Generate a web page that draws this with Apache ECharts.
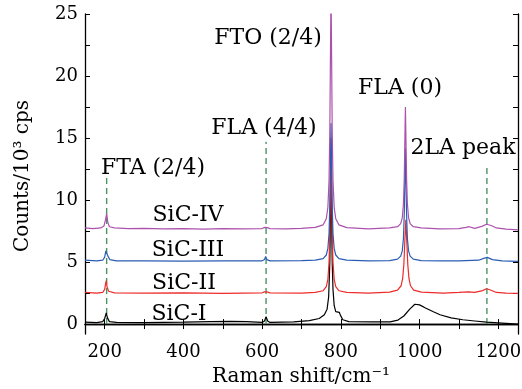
<!DOCTYPE html>
<html><head><meta charset="utf-8">
<script src="https://cdn.jsdelivr.net/npm/echarts@6/dist/echarts.min.js"></script>
<style>html,body{margin:0;padding:0;background:#fff}#c{width:522px;height:389px}</style>
</head><body><div id="c"></div>
<script>
// ---- data (x: Raman shift cm^-1, y: counts / 10^3 cps) ----
const sicI = [[150,0.15],[180,0.12],[195,0.2],[200,0.45],[204,0.9],[207,0.5],[212,0.2],[230,0.13],[300,0.12],[400,0.15],[470,0.2],[520,0.22],[560,0.2],[600,0.13],[606,0.25],[610,0.6],[614,0.25],[620,0.13],[680,0.18],[720,0.28],[745,0.45],[758,0.75],[765,1.2],[769,2.2],[772,5],[775,12],[778,5],[780,2.8],[783,1.5],[787,1.0],[792,0.85],[796,0.95],[799,0.7],[805,0.35],[820,0.2],[880,0.17],[925,0.18],[945,0.32],[960,0.65],[975,1.2],[988,1.6],[1000,1.55],[1015,1.3],[1035,1.0],[1052,0.75],[1080,0.5],[1110,0.35],[1140,0.25],[1170,0.15],[1200,0.1],[1250,0.0]];
const sicII = [[150,2.55],[180,2.5],[195,2.55],[200,2.8],[202,3.2],[204,3.5],[206,3.0],[210,2.65],[225,2.52],[300,2.5],[400,2.52],[500,2.48],[600,2.52],[606,2.6],[609,2.75],[612,2.6],[620,2.52],[700,2.5],[735,2.55],[755,2.69],[763,3.02],[767,3.6],[770,5.0],[772,7.6],[775,15],[778,7.6],[780,5.0],[783,3.6],[787,3.02],[795,2.69],[815,2.55],[870,2.5],[924,2.57],[944,2.74],[953,3.09],[957,3.68],[960,4.8],[962,6.3],[965,8.4],[968,6.3],[970,4.8],[973,3.68],[977,3.09],[985,2.74],[1005,2.57],[1060,2.5],[1100,2.55],[1125,2.6],[1140,2.55],[1160,2.7],[1170,2.85],[1180,2.75],[1195,2.55],[1220,2.5],[1250,2.48]];
const sicIII = [[150,5.15],[180,5.1],[195,5.15],[200,5.4],[203,5.9],[205,6.0],[208,5.5],[213,5.2],[230,5.1],[300,5.1],[400,5.08],[500,5.1],[600,5.1],[606,5.2],[609,5.45],[612,5.2],[620,5.1],[700,5.12],[735,5.15],[755,5.27],[763,5.57],[767,6.1],[770,7.3],[772,9.65],[775,16.2],[778,9.65],[780,7.3],[783,6.1],[787,5.57],[795,5.27],[815,5.15],[870,5.1],[924,5.12],[944,5.24],[952,5.48],[956,5.9],[959,6.9],[961,8.8],[964,14.2],[967,8.8],[969,6.9],[972,5.9],[976,5.48],[984,5.24],[1004,5.12],[1060,5.1],[1100,5.1],[1150,5.15],[1163,5.3],[1172,5.38],[1185,5.2],[1210,5.1],[1250,5.05]];
const sicIV = [[150,7.75],[170,7.7],[190,7.75],[198,7.9],[202,8.4],[205,8.9],[208,8.2],[212,7.85],[225,7.75],[260,7.7],[300,7.72],[350,7.68],[400,7.7],[450,7.65],[500,7.7],[550,7.68],[600,7.7],[607,7.8],[610,7.95],[613,7.78],[620,7.7],[660,7.68],[700,7.72],[735,7.8],[755,8.0],[763,8.5],[767,9.4],[770,11.6],[772,15.7],[775,27.2],[778,15.7],[780,11.6],[783,9.4],[787,8.5],[795,8.0],[815,7.78],[870,7.68],[924,7.75],[944,7.85],[952,8.1],[956,8.57],[959,9.7],[961,11.7],[964,17.5],[967,11.7],[969,9.7],[972,8.57],[976,8.1],[984,7.85],[1004,7.75],[1050,7.68],[1100,7.7],[1118,7.8],[1126,7.85],[1140,7.72],[1158,7.88],[1170,8.05],[1182,7.95],[1195,7.75],[1220,7.65],[1250,7.6]];
// reference (dashed) lines: [position, top]
const refLines = [[205,12.0],[610,14.7],[1171,12.7]];
const seriesNames = ['SiC-I','SiC-II','SiC-III','SiC-IV'];
const xLabels = [200,400,600,800,1000,1200];
const xTicks = [200,300,400,500,600,700,800,900,1000,1100,1200];
const yLabels = [0,5,10,15,20,25];
const yTicks = [0,2.5,5,7.5,10,12.5,15,17.5,20,22.5,25];
const peakNotes = ['FTO (2/4)','FLA (0)','FLA (4/4)','2LA peak','FTA (2/4)'];
const xName = 'Raman shift/cm⁻¹';
const yName = 'Counts/10³ cps';

const FONT = 'DejaVu Serif';
const colors = ['#000000','#ee2b2b','#2a5cb3','#ac52ac'];
const chart = echarts.init(document.getElementById('c'), null, {renderer:'canvas'});
const axisLine = {show:true, lineStyle:{color:'#000', width:1.3}};
function xAx(pos, show){
  return {type:'value', min:150, max:1250, position:pos, axisLine, splitLine:{show:false},
    axisTick:{show:true, inside:true, length:5, customValues:xTicks, lineStyle:{color:'#000', width:1}},
    axisLabel:{show:show, customValues:xLabels, formatter:v=>String(v), color:'#000', fontFamily:FONT, fontSize:18, margin:9}};
}
function yAx(pos, show){
  return {type:'value', min:-0.8, max:25, position:pos, axisLine, splitLine:{show:false},
    axisTick:{show:true, inside:true, length:5, customValues:yTicks, lineStyle:{color:'#000', width:1}},
    axisLabel:{show:show, customValues:yLabels, formatter:v=>String(v), color:'#000', fontFamily:FONT, fontSize:18, margin:7}};
}
const series = [];
refLines.forEach(r => series.push({type:'line', xAxisIndex:0, yAxisIndex:0, data:[[r[0],0],[r[0],r[1]]],
  showSymbol:false, silent:true, z:1, lineStyle:{color:'#4a9462', width:1.4, type:[6,4]}}));
[sicI, sicII, sicIII, sicIV].forEach((d,i) => series.push({type:'line', name:seriesNames[i], data:d,
  xAxisIndex:0, yAxisIndex:0, showSymbol:false, clip:true, z:2+i, animation:false,
  lineStyle:{color:colors[i], width:1.2}}));

const notePos = [[268,38],[400,88],[264,128],[463,148],[153,168]];
const seriesLabelPos = [[179,314],[184,283],[188,250],[188,215]];
const graphics = [];
function txt(t, x, y, size, rot){
  return {type:'text', x:x, y:y, rotation:rot||0,
    style:{text:t, fill:'#000', font:size+'px "'+FONT+'"', align:'center', verticalAlign:'middle'}};
}
peakNotes.forEach((t,i) => graphics.push(txt(t, notePos[i][0], notePos[i][1], 22)));
seriesNames.forEach((t,i) => graphics.push(txt(t, seriesLabelPos[i][0], seriesLabelPos[i][1], 22)));
graphics.push(txt(xName, 301, 377, 20));
graphics.push(txt(yName, 23, 176, 20, Math.PI/2));

chart.setOption({
  animation:false,
  grid:{left:85, right:4, top:14, bottom:55, containLabel:false, outerBoundsMode:'none'},
  xAxis:[xAx('bottom',true), xAx('top',false)],
  yAxis:[yAx('left',true), yAx('right',false)],
  series, graphic:graphics
});
</script></body></html>
